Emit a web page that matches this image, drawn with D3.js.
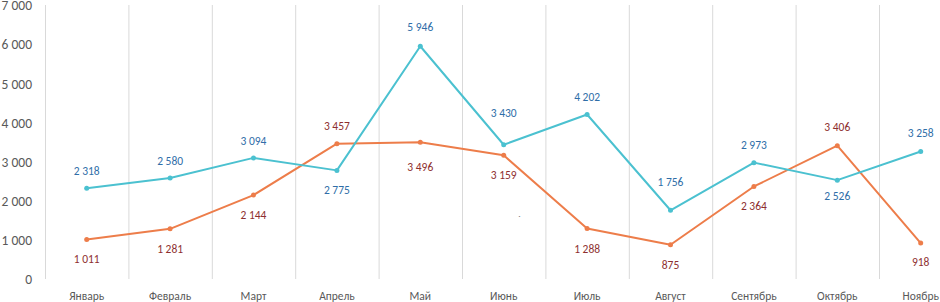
<!DOCTYPE html>
<html><head><meta charset="utf-8">
<script src="https://cdn.jsdelivr.net/npm/d3@7"></script>
<style>body{margin:0;background:#fff}svg{display:block}text{font-family:Calibri,Carlito,"Open Sans","Liberation Sans",sans-serif}</style>
</head><body>
<svg id="c" width="940" height="302"></svg>
<script>
const categories = ["Январь","Февраль","Март","Апрель","Май","Июнь","Июль","Август","Сентябрь","Октябрь","Ноябрь"];
const seriesBlue = [2318,2580,3094,2775,5946,3430,4202,1756,2973,2526,3258];
const seriesOrange = [1011,1281,2144,3457,3496,3159,1288,875,2364,3406,918];
const yTicks = [0,1000,2000,3000,4000,5000,6000,7000];

// label placement (style config): negative = above the point, positive = below
const blueLabelOffset   = [-17,-17,-17,20,-19,-32,-18,-28,-18,16,-18];
const orangeLabelOffset = [20,20,20,-18,25,20,20,20,20,-19,19];

const svg = d3.select("#c");
const x = d3.scaleBand().domain(categories).range([45, 45 + 83.4*11]).paddingInner(0).paddingOuter(0);
const y = d3.scaleLinear().domain([0,7000]).range([279,5]);
const fmt = v => d3.format(",")(v).replace(/,/g," ");

// vertical gridlines at band starts
svg.append("g").selectAll("line").data(categories).join("line")
  .attr("x1", d=>x(d)+0.5).attr("x2", d=>x(d)+0.5)
  .attr("y1", y(7000)).attr("y2", y(0))
  .attr("stroke","#d9d9d9").attr("stroke-width",1);

// y axis labels
const yAxis = d3.axisLeft(y).tickValues(yTicks).tickSize(0).tickPadding(0).tickFormat(fmt);
const gy = svg.append("g").attr("transform","translate(32,0)").call(yAxis);
gy.select(".domain").remove();
gy.selectAll("text").attr("fill","#595959").style("font-size","13.5px").attr("dy","0.35em");

// x axis labels
const xAxis = d3.axisBottom(x).tickSize(0).tickPadding(0);
const gx = svg.append("g").attr("transform","translate(0,291)").call(xAxis);
gx.select(".domain").remove();
gx.selectAll("text").attr("fill","#595959").style("font-size","11.5px").attr("dy","0.35em").attr("y",5);

const cx = d => x(d) + x.bandwidth()/2;
const line = d3.line().x((d,i)=>cx(categories[i])).y(d=>y(d));

function drawSeries(vals, color, labelColor, offsets){
  svg.append("path").datum(vals).attr("d", line).attr("fill","none")
    .attr("stroke", color).attr("stroke-width",2).attr("stroke-linejoin","round");
  svg.append("g").selectAll("circle").data(vals).join("circle")
    .attr("cx",(d,i)=>cx(categories[i])).attr("cy",d=>y(d)).attr("r",2.5).attr("fill",color);
  svg.append("g").selectAll("text").data(vals).join("text")
    .attr("x",(d,i)=>cx(categories[i]))
    .attr("y",(d,i)=> y(d) + offsets[i])
    .attr("text-anchor","middle").attr("dy","0.35em")
    .attr("fill", labelColor).style("font-size","11.5px").text(d=>fmt(d));
}
drawSeries(seriesOrange, "#ed7d4a", "#8e2f2f", orangeLabelOffset);
drawSeries(seriesBlue, "#4bc1d0", "#2f6ea8", blueLabelOffset);

svg.append("text").attr("x",518).attr("y",222).attr("fill","#555").style("font-size","9px").text("`");
</script>
</body></html>
